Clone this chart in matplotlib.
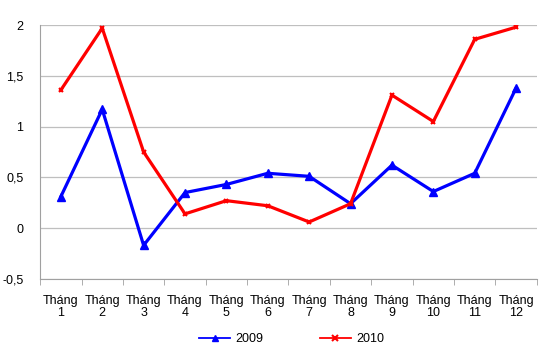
import matplotlib.pyplot as plt
import numpy as np

plt.rcParams['font.family'] = ['Liberation Sans', 'DejaVu Sans']

months = ['Tháng\n%d' % i for i in range(1, 13)]
y2009 = [0.31, 1.17, -0.17, 0.35, 0.43, 0.54, 0.51, 0.24, 0.62, 0.36, 0.54, 1.38]
y2010 = [1.36, 1.97, 0.75, 0.14, 0.27, 0.22, 0.06, 0.24, 1.31, 1.05, 1.86, 1.98]

fig = plt.figure(figsize=(5.5, 3.64), dpi=100)
ax = fig.add_axes([0.073, 0.234, 0.903, 0.697])

x = np.arange(len(months))
ax.plot(x, y2009, color='#0000FF', lw=2.3, marker='^', ms=6, label='2009')
ax.plot(x, y2010, color='#FF0000', lw=2.3, marker='x', ms=3.5, mew=1.5, label='2010')

ax.set_xlim(-0.5, 11.5)
ax.set_ylim(-0.5, 2)
ax.set_yticks([-0.5, 0, 0.5, 1, 1.5, 2])
ax.set_yticklabels(['-0,5', '0', '0,5', '1', '1,5', '2'], fontsize=9)
ax.set_xticks(x)
ax.set_xticklabels(months, fontsize=9, linespacing=1.0)
ax.set_xticks(np.arange(-0.5, 12, 1), minor=True)
ax.tick_params(axis='x', which='major', length=0, pad=12)
ax.tick_params(axis='x', which='minor', length=4, color='#A0A0A0')
ax.tick_params(axis='y', length=0, pad=12)
ax.grid(axis='y', color='#BFBFBF', lw=0.9)
ax.set_axisbelow(True)
for s in ['top', 'right']:
    ax.spines[s].set_visible(False)
ax.spines['left'].set_color('#A0A0A0')
ax.spines['bottom'].set_color('#A0A0A0')

leg = fig.legend(loc='lower center', bbox_to_anchor=(0.53, 0.02), ncol=2, frameon=False,
                 fontsize=9, handlelength=2.5, columnspacing=4.5, handletextpad=0.4)
for ln in leg.get_lines():
    ln.set_linewidth(1.3)
    ln.set_markersize(4)

fig.savefig('out.png')
